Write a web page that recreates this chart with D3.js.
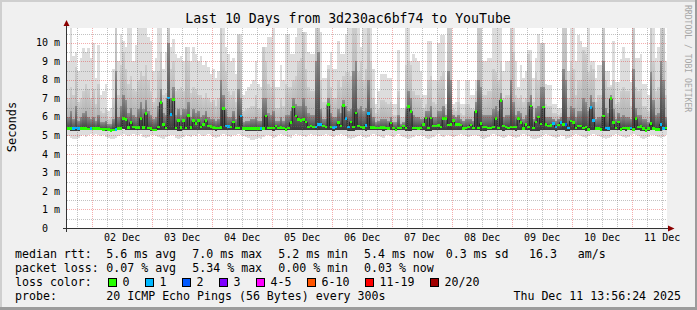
<!DOCTYPE html>
<html><head><meta charset="utf-8">
<script src="https://cdn.jsdelivr.net/npm/d3@7"></script>
<style>
body{margin:0;background:#f0f0f0;overflow:hidden;}
text{font-family:"DejaVu Sans Mono",monospace;fill:#000;white-space:pre;}
</style></head><body>
<svg id="c" width="697" height="310"></svg>
<script>
// ---------------- DATA ----------------
const title = "Last 10 Days from 3d230ac6bf74 to YouTube";
const yAxisTitle = "Seconds";
const yTickValues = [0,1,2,3,4,5,6,7,8,9,10];
const yTickLabels = ["0\u00a0\u00a0","1 m","2 m","3 m","4 m","5 m","6 m","7 m","8 m","9 m","10 m"];
const dayLabels = ["02 Dec","03 Dec","04 Dec","05 Dec","06 Dec","07 Dec","08 Dec","09 Dec","10 Dec","11 Dec"];
const watermark = "RRDTOOL / TOBI OETIKER";

// hourly median RTT (ms), 240 hours starting Dec 1 14:00
const med = [
5.36,5.38,5.38,5.40,5.37,5.36,5.38,5.36,5.35,5.37, 5.36,5.38,5.36,5.35,5.33,5.34,5.32,5.27,5.30,5.33,
5.36,5.36,5.90,5.85,5.42,5.69,5.45,5.42,5.42,5.92, 5.42,6.17,5.40,5.36,5.29,5.30,5.45,6.78,5.60,5.40,
7.02,6.13,6.93,5.40,5.80,5.42,5.80,5.40,6.06,5.42, 5.80,5.65,5.80,5.45,5.60,5.80,5.50,5.47,5.42,5.40,
5.40,5.42,6.46,5.50,5.48,5.45,5.72,5.41,5.40,6.05, 5.38,5.38,5.37,5.38,5.37,5.38,5.37,5.37,5.38,6.05,
5.41,5.40,5.40,5.50,5.40,5.42,5.41,5.32,5.40,5.69, 6.53,6.05,5.87,5.81,5.87,5.72,5.45,5.50,5.45,5.45,
5.60,5.60,5.50,5.45,6.67,5.45,5.42,5.45,5.69,5.50, 6.60,5.90,5.45,5.72,5.45,6.22,5.50,5.45,5.42,5.55,
6.17,5.42,5.43,5.40,5.40,5.42,5.43,5.40,5.38,5.68, 5.41,5.30,5.40,5.40,5.50,5.41,6.55,6.30,5.41,5.41,
5.38,5.41,5.60,5.95,5.41,5.95,5.50,5.50,5.55,5.46, 5.90,5.90,5.56,5.60,5.80,5.60,5.60,5.56,5.38,5.41,
5.45,5.56,5.41,6.30,5.41,5.63,5.45,5.45,5.41,5.41, 5.45,5.90,5.41,6.90,5.50,5.45,5.41,5.45,5.45,5.45,
5.90,5.70,5.38,5.60,5.45,6.58,5.40,5.72,6.00,5.62, 6.53,5.60,5.50,5.55,5.63,5.45,5.56,5.69,5.60,5.60,
5.41,5.77,5.69,5.41,5.50,5.50,5.41,5.45,5.32,6.50, 5.80,5.38,5.38,5.32,6.05,5.41,5.36,6.98,5.69,5.41,
5.72,5.32,5.41,5.41,5.38,5.41,5.32,5.90,5.45,5.48, 5.38,5.25,5.36,5.63,5.38,5.32,5.32,5.60,5.38,5.41
];
// loss colour class per hour (index into lossColors)
const loss = [
0,0,1,1,1,0,0,0,0,1, 0,0,0,0,0,0,0,0,0,1,
0,0,0,0,0,0,0,0,0,0, 0,0,0,0,0,0,0,0,0,0,
1,1,0,0,0,0,0,0,0,0, 0,0,0,0,0,0,0,0,0,0,
0,0,0,1,1,0,0,0,0,1, 0,0,0,0,0,0,0,1,0,0,
0,0,0,0,0,0,0,0,0,0, 0,0,0,0,0,0,0,0,0,1,
1,1,0,0,0,0,1,1,0,0, 0,1,1,0,0,0,0,0,0,1,
1,0,0,0,0,0,0,0,0,0, 0,0,0,0,0,0,0,0,0,0,
0,0,0,0,0,0,0,0,0,0, 0,0,0,0,0,0,0,0,0,0,
0,0,0,0,0,0,0,0,0,0, 0,0,0,0,0,0,0,0,0,0,
0,0,0,0,0,0,0,0,0,0, 0,0,0,0,1,1,0,1,0,2,
1,0,0,0,0,0,0,0,0,1, 1,0,0,0,0,1,1,0,0,0,
0,0,0,0,0,1,0,0,0,0, 0,0,0,0,0,0,0,1,1,0
];
// smoke: highest ping (light band top)
const smokeTop = [
9.0,11,9.3,9.5,8.5,9.2,9.7,9.5,9.7,9.2, 10.0,8.1,9.9,7.2,7.4,7.8,6.3,6.5,8.6,11,
9.0,10.5,10.1,9.75,11,11,9.0,9.9,11,11, 11,11,10.3,10.1,8.5,9.2,11,11,8.6,9.5,
11,9.8,10.2,9.4,9.2,9.3,9.0,9.75,9.75,9.0, 9.75,9.4,9.0,9.3,8.8,9.0,8.7,8.3,8.6,8.1,
8.5,11,11,9.75,9.4,9.0,9.2,8.3,10.5,10.5, 7.2,7.4,7.6,7.8,8.0,9.0,7.8,7.6,9.8,9.8,
10.3,10.3,11,7.6,7.6,8.8,8.0,10.5,10.5,9.4, 9.4,10.3,11,11,10.6,10.6,9.5,9.4,9.4,11,
11,10.6,8.1,8.1,8.8,9.5,8.6,8.6,10.1,9.4, 9.4,10.5,11,11,11,11,11,9.75,11,11,
11,11,8.6,6.7,7.4,8.3,8.3,8.3,8.1,8.1, 6.7,6.7,9.6,6.5,6.5,11,11,9.0,9.4,9.2,
9.0,8.5,7.2,7.2,10.1,10.1,8.0,8.0,10.0,10.4, 10.4,6.7,11,11,6.7,6.8,8.0,6.7,6.7,8.0,
8.0,7.2,7.2,8.0,11,11,9.0,9.0,9.2,9.2, 11,11,11,11,8.5,9.0,9.0,11,11,9.0,
7.6,8.8,8.1,8.5,9.6,9.6,8.1,9.2,10.5,10.0, 10.0,7.8,7.7,7.7,6.7,6.7,6.5,6.5,11,11,
8.5,11,11,9.0,10.4,10.1,9.8,9.8,11,9.0, 9.0,8.1,8.8,8.8,11,8.5,8.5,7.7,10.1,7.9,
7.9,9.1,9.75,9.2,9.2,7.9,11,9.2,9.2,9.4, 7.8,7.8,7.2,11,11,9.2,9.75,11,11,9.0
];
// smoke: middle band top
const smokeMid = [
7.0,7.6,7.2,8.7,6.8,7.0,7.4,7.8,7.5,7.0, 7.5,6.7,7.8,6.3,6.2,6.5,5.9,6.0,7.0,11,
7.2,8.8,9.5,8.6,7.8,8.2,7.5,7.4,8.0,8.5, 8.2,8.8,8.0,7.4,6.8,7.0,8.5,9.5,7.2,7.3,
11,8.6,9.0,7.4,7.5,7.6,7.4,9.75,9.0,7.3, 7.6,7.5,7.2,7.2,7.0,7.3,7.0,6.8,6.9,6.6,
7.0,11,9.0,8.5,7.4,7.2,7.4,6.8,10.4,9.5, 6.3,6.4,6.5,6.6,6.6,7.2,6.5,6.4,9.8,9.0,
7.8,7.6,8.0,6.5,6.5,7.0,6.6,7.8,7.6,7.6, 8.0,8.2,9.0,9.2,10.6,8.6,7.6,7.4,7.4,11,
11,8.0,6.8,6.8,8.6,7.6,7.0,7.0,8.0,7.6, 8.2,8.4,8.4,8.2,11,11,8.4,9.0,8.0,8.6,
11,9.0,7.0,6.2,6.4,6.9,6.9,6.8,6.7,6.8, 6.1,6.1,7.4,6.0,6.0,8.8,9.0,8.8,7.4,7.2,
7.2,7.0,6.5,6.7,8.0,8.2,6.8,6.7,8.0,8.2, 8.4,6.4,11,11,6.4,6.3,6.8,6.2,6.1,6.7,
6.7,6.5,6.4,7.4,11,11,7.2,7.2,7.4,7.4, 8.6,8.4,8.0,9.0,7.0,7.2,7.2,11,9.5,7.2,
7.0,7.2,6.8,7.0,9.4,9.0,6.8,8.4,8.0,10.0, 10.0,6.7,6.6,6.6,6.2,6.2,6.1,6.2,11,11,
7.0,9.0,8.6,7.2,8.0,8.0,9.6,9.4,8.4,8.8, 8.6,6.8,7.2,7.2,11,8.0,7.6,7.6,8.0,6.7,
6.8,7.4,7.6,7.4,7.4,6.6,11,7.6,7.4,7.5, 6.6,6.6,6.3,11,9.0,7.4,7.6,11,11,7.2
];
// smoke: dark core top
const smokeDark = [
6.0,6.3,5.9,6.6,5.8,6.0,6.2,6.3,6.0,5.9, 6.0,5.8,6.1,5.7,5.7,5.8,5.6,5.6,5.9,8.5,
6.0,6.6,7.2,6.9,6.2,6.5,6.1,6.0,6.4,6.8, 6.4,6.9,6.3,6.1,5.9,6.0,6.6,7.5,6.2,6.1,
10.0,7.0,7.6,6.1,6.4,6.1,6.4,6.4,6.8,6.0, 6.4,6.2,6.3,6.0,6.1,6.3,6.0,5.9,5.9,5.8,
5.9,8.0,7.2,6.4,6.0,6.0,6.3,5.9,7.5,7.0, 5.7,5.8,5.8,5.9,5.9,6.0,5.8,5.8,7.0,7.0,
6.2,6.1,6.3,5.8,5.8,6.0,5.8,6.1,6.1,6.3, 7.0,6.7,6.6,6.6,7.0,6.6,6.2,6.1,6.1,9.0,
9.5,6.4,5.9,5.9,7.0,6.2,6.0,6.0,6.4,6.2, 6.9,6.6,6.3,6.4,8.5,9.0,6.4,6.6,6.3,6.5,
8.0,6.5,6.0,5.7,5.8,5.9,5.9,5.9,5.8,6.0, 5.7,5.7,6.1,5.6,5.7,6.4,7.4,7.0,6.1,6.0,
6.0,5.9,5.9,6.3,6.3,6.6,6.0,6.0,6.3,6.3, 6.6,6.1,8.5,8.0,6.1,6.0,6.1,5.9,5.8,5.9,
5.9,5.9,5.8,6.8,8.0,7.6,6.1,6.1,6.1,6.1, 6.4,6.6,6.3,7.3,6.0,6.1,6.1,8.0,6.8,6.1,
6.3,6.2,5.9,6.1,6.8,7.2,5.9,6.5,6.6,7.6, 7.6,6.0,6.0,6.0,5.9,5.8,5.9,6.0,8.6,8.0,
6.0,6.6,6.5,6.0,6.3,6.3,7.0,6.8,6.3,7.2, 6.8,5.9,6.0,6.0,9.0,6.5,6.2,7.2,6.4,5.9,
6.2,6.0,6.1,6.0,6.0,5.9,8.6,6.5,6.1,6.1, 5.9,5.9,5.7,8.4,6.9,6.1,6.2,9.0,8.0,6.0
];
// smoke: lowest ping (light band bottom)
const smokeLo = [
4.95,4.85,4.8,4.8,4.85,4.95,5.0,4.9,5.0,5.05, 5.0,5.05,5.0,4.95,5.0,4.9,4.85,4.8,4.8,4.85,
4.95,5.0,5.05,5.0,4.95,5.0,5.05,5.0,5.0,5.05, 4.9,4.85,4.9,5.0,5.0,4.95,4.9,4.85,4.8,4.9,
4.95,5.0,5.0,4.85,4.8,4.85,4.9,5.0,4.95,4.9, 5.0,4.95,5.05,5.0,4.95,5.0,5.05,5.0,4.9,4.85,
4.9,5.0,5.05,5.0,4.95,4.9,5.0,5.0,5.05,5.0, 4.95,4.9,4.85,4.75,4.75,4.8,4.85,4.8,4.9,5.0,
5.0,4.95,4.85,4.9,5.0,5.05,5.0,4.95,4.9,4.85, 5.0,5.05,5.0,5.0,4.95,4.9,5.0,5.05,5.0,5.0,
4.95,4.95,5.0,5.05,5.0,4.95,4.9,5.0,5.0,5.05, 5.0,4.95,4.85,4.8,4.85,4.9,4.95,5.0,4.9,4.85,
4.9,5.0,5.05,5.0,4.95,4.9,4.85,5.0,5.0,4.95, 4.9,5.0,5.05,4.95,4.9,4.85,4.8,4.85,4.9,5.0,
4.95,5.0,4.95,4.85,4.8,4.85,4.9,5.0,5.05,4.95, 4.9,5.0,5.0,4.95,4.9,4.95,5.0,5.05,5.0,4.95,
4.9,4.95,5.0,5.0,4.95,4.85,4.8,4.85,4.9,5.0, 5.05,5.0,4.95,4.9,4.85,4.9,5.0,4.95,4.9,4.85,
4.9,5.0,5.05,5.0,4.95,4.85,4.8,4.8,4.85,4.9, 5.0,5.05,5.0,4.95,4.9,4.85,4.9,5.0,4.95,4.8,
4.85,4.9,5.0,5.05,5.0,4.95,4.9,4.85,4.95,5.0, 5.05,5.0,4.95,4.9,4.85,4.8,4.85,4.9,5.0,5.05,
5.0,4.95,4.9,4.85,4.9,5.0,5.05,5.0,4.95,4.85, 4.8,4.85,4.9,5.0,5.0,4.95,4.9,4.85,4.9,5.0
];
// smoke: bottom of the inner (darker) bands
const smokeBase = [
5.27,5.25,5.22,5.22,5.25,5.27,5.29,5.27,5.27,5.29, 5.27,5.29,5.27,5.27,5.25,5.25,5.22,5.19,5.22,5.25,
5.27,5.29,5.32,5.29,5.27,5.29,5.29,5.27,5.27,5.29, 5.27,5.29,5.27,5.25,5.22,5.22,5.27,5.29,5.27,5.27,
5.29,5.29,5.29,5.27,5.25,5.25,5.27,5.29,5.29,5.27, 5.29,5.27,5.29,5.29,5.27,5.29,5.29,5.27,5.27,5.25,
5.27,5.29,5.29,5.29,5.27,5.27,5.29,5.29,5.29,5.29, 5.27,5.25,5.25,5.22,5.22,5.22,5.25,5.25,5.27,5.29,
5.29,5.27,5.25,5.27,5.29,5.29,5.29,5.22,5.27,5.27, 5.29,5.29,5.29,5.29,5.29,5.27,5.29,5.29,5.29,5.29,
5.27,5.27,5.29,5.29,5.29,5.27,5.25,5.29,5.29,5.29, 5.29,5.27,5.25,5.25,5.25,5.27,5.27,5.29,5.27,5.25,
5.27,5.29,5.29,5.29,5.27,5.27,5.25,5.29,5.27,5.27, 5.27,5.22,5.29,5.27,5.27,5.25,5.25,5.25,5.27,5.29,
5.27,5.29,5.27,5.25,5.22,5.25,5.27,5.29,5.29,5.27, 5.27,5.29,5.29,5.27,5.27,5.27,5.29,5.29,5.27,5.27,
5.27,5.27,5.29,5.29,5.27,5.25,5.22,5.25,5.27,5.29, 5.29,5.29,5.27,5.27,5.25,5.27,5.29,5.27,5.27,5.25,
5.27,5.29,5.29,5.29,5.27,5.25,5.22,5.22,5.25,5.27, 5.29,5.29,5.29,5.27,5.27,5.25,5.27,5.29,5.27,5.22,
5.25,5.27,5.29,5.29,5.29,5.27,5.27,5.25,5.22,5.29, 5.29,5.29,5.27,5.22,5.25,5.22,5.22,5.27,5.29,5.29,
5.29,5.25,5.27,5.25,5.27,5.29,5.22,5.29,5.27,5.25, 5.22,5.19,5.25,5.27,5.27,5.25,5.25,5.25,5.27,5.29
];

const lossColors = ["#26ff00","#00b8ff","#0059ff","#7e00ff","#ff00ff","#ff5500","#ff0000","#a10000"];
const lossLabels = ["0","1","2","3","4-5","6-10","11-19","20/20"];

const legendRtt  = ["median rtt:","5.6 ms avg","7.0 ms max","5.2 ms min","5.4 ms now","0.3 ms sd","16.3   am/s"];
const legendLoss = ["packet loss:","0.07 % avg","5.34 % max","0.00 % min","0.03 % now"];
const legendLossColorTitle = "loss color:";
const legendProbe = ["probe:","20 ICMP Echo Pings (56 Bytes) every 300s"];
const legendDate = "Thu Dec 11 13:56:24 2025";

// ---------------- DRAW ----------------
const W = 697, H = 310;
const X0 = 67, X1 = 667, Y0 = 228, Y1 = 28;
const svg = d3.select("#c");
const end = new Date(Date.UTC(2025,11,11,13,56,24));
const start = new Date(end.getTime() - 10*864e5);
const x = d3.scaleUtc().domain([start, end]).range([X0, X1]);
const y = d3.scaleLinear().domain([0, 10.8]).range([Y0, Y1]);
const firstBin = Date.UTC(2025,11,1,14,0,0), HOUR = 36e5;
const bins = med.map((m,i)=>({
  t0:new Date(firstBin+i*HOUR), t1:new Date(firstBin+(i+1)*HOUR),
  med:m, loss:loss[i], top:smokeTop[i], mid:smokeMid[i], dark:smokeDark[i], lo:smokeLo[i], base:smokeBase[i]
}));

// background and 3d frame
svg.append("rect").attr("width",W).attr("height",H).attr("fill","#f0f0f0");
svg.append("rect").attr("x",0).attr("y",0).attr("width",W).attr("height",2).attr("fill","#cfcfcf");
svg.append("rect").attr("x",0).attr("y",0).attr("width",2).attr("height",H).attr("fill","#cfcfcf");
svg.append("rect").attr("x",0).attr("y",H-3).attr("width",W).attr("height",3).attr("fill","#9c9c9c");
svg.append("rect").attr("x",W-2).attr("y",0).attr("width",2).attr("height",H).attr("fill","#9c9c9c");

// canvas
svg.append("rect").attr("x",X0).attr("y",Y1).attr("width",X1-X0).attr("height",Y0-Y1).attr("fill","#ffffff");

const defs = svg.append("defs");
defs.append("clipPath").attr("id","clip").append("rect").attr("x",X0).attr("y",Y1).attr("width",X1-X0).attr("height",Y0-Y1);
function grad(id, c0, c1){
  const g = defs.append("linearGradient").attr("id",id).attr("x1",0).attr("y1",1).attr("x2",0).attr("y2",0);
  g.append("stop").attr("offset","0").attr("stop-color",c0);
  g.append("stop").attr("offset","1").attr("stop-color",c1);
}
grad("gMid","#a4a4a4","#cdcdcd");
grad("gDark","#383838","#8e8e8e");

const plot = svg.append("g").attr("clip-path","url(#clip)");
const bx = d => x(d.t0), bw = d => x(d.t1) - x(d.t0);
function band(lowKey, highKey, fill){
  plot.append("g").attr("shape-rendering","crispEdges").selectAll("rect").data(bins).join("rect")
    .attr("x",bx).attr("width",bw)
    .attr("y",d=>y(d[highKey])).attr("height",d=>Math.max(0,y(d[lowKey])-y(d[highKey])))
    .attr("fill",fill);
}
band("lo","top","#dddddd");
band("base","mid","url(#gMid)");
band("base","dark","url(#gDark)");

// median step line
const pts = bins.map(d=>({t:d.t0, v:d.med}));
pts.push({t:bins[bins.length-1].t1, v:bins[bins.length-1].med});
plot.append("path").datum(pts)
  .attr("d", d3.line().x(d=>x(d.t)).y(d=>y(d.v)).curve(d3.curveStepAfter))
  .attr("fill","none").attr("stroke","#202020").attr("stroke-width",1);
// median coloured by loss
plot.append("g").attr("shape-rendering","crispEdges").selectAll("rect").data(bins).join("rect")
  .attr("x",bx).attr("width",bw)
  .attr("y",d=>y(d.med)-1.3).attr("height",2.6)
  .attr("fill",d=>lossColors[d.loss]);

// grid (on top)
const grid = svg.append("g").attr("shape-rendering","crispEdges");
const minorCol = "rgba(110,110,110,0.42)", majorCol = "rgba(220,0,0,0.32)";
const py = v => Math.round(y(v)) + 0.5;
const px = t => Math.round(x(t)) + 0.5;
const yMinor = d3.range(1, 22).map(k=>k*0.5).filter(v=>v%1!==0 && v<=10.8);
const yMajor = yTickValues.filter(v=>v>0);
grid.selectAll(".ymin").data(yMinor).join("line").attr("x1",X0).attr("x2",X1).attr("y1",py).attr("y2",py)
  .attr("stroke",minorCol).attr("stroke-dasharray","1,1");
grid.selectAll(".ymaj").data(yMajor).join("line").attr("x1",X0).attr("x2",X1).attr("y1",py).attr("y2",py)
  .attr("stroke",majorCol).attr("stroke-dasharray","1,1");
const xMinor = d3.utcHour.every(6).range(start, end).filter(t=>t.getUTCHours()!==0);
const xMajor = d3.utcDay.range(start, end);
grid.selectAll(".xmin").data(xMinor).join("line").attr("y1",Y1).attr("y2",Y0).attr("x1",px).attr("x2",px)
  .attr("stroke",minorCol).attr("stroke-dasharray","1,1");
grid.selectAll(".xmaj").data(xMajor).join("line").attr("y1",Y1).attr("y2",Y0).attr("x1",px).attr("x2",px)
  .attr("stroke",majorCol).attr("stroke-dasharray","1,1");

// axes
const axisCol = "#333";
svg.append("line").attr("x1",X0-4).attr("x2",X1+2).attr("y1",Y0+0.5).attr("y2",Y0+0.5).attr("stroke",axisCol);
svg.append("line").attr("x1",X0-0.5).attr("x2",X0-0.5).attr("y1",Y0+4).attr("y2",Y1-3).attr("stroke",axisCol);
svg.append("path").attr("d",`M${X1+1},${Y0-2.5}L${X1+1},${Y0+3.5}L${X1+7.5},${Y0+0.5}Z`).attr("fill","#8b0000");
svg.append("path").attr("d",`M${X0-3.5},${Y1-2}L${X0+2.5},${Y1-2}L${X0-0.5},${Y1-8}Z`).attr("fill","#8b0000");

// y labels
svg.append("g").selectAll("text").data(yTickValues).join("text")
  .attr("x",60).attr("y",v=>y(v)+3.6).attr("text-anchor","end").attr("font-size","10px")
  .text((v,i)=>yTickLabels[i]);
// x labels at noon
const noons = d3.utcDay.range(start, end).map(d=>new Date(d.getTime()+12*HOUR)).filter(d=>d<=end);
svg.append("g").selectAll("text").data(noons).join("text")
  .attr("x",d=>x(d)).attr("y",241).attr("text-anchor","middle").attr("font-size","10px")
  .text((d,i)=>dayLabels[i]);

// titles
svg.append("text").attr("x",348).attr("y",23).attr("text-anchor","middle").attr("font-size","13.2px").text(title);
svg.append("text").attr("transform","translate(15.5,127) rotate(-90)").attr("text-anchor","middle")
  .attr("font-size","12px").text(yAxisTitle);
svg.append("text").attr("transform","translate(685,5) rotate(90)").attr("font-size","8.1px")
  .style("fill","#a6a6a6").text(watermark);

// legend
const LF = "11.6px";
const segX = [15, 106.3, 192.3, 278.3, 364, 445.7, 529];
const lg = svg.append("g").attr("font-size",LF);
legendRtt.forEach((s,i)=>lg.append("text").attr("x",segX[i]).attr("y",258).text(s));
legendLoss.forEach((s,i)=>lg.append("text").attr("x",segX[i]).attr("y",272).text(s));
lg.append("text").attr("x",15).attr("y",286).text(legendLossColorTitle);
let lx = 108.5;
lossLabels.forEach((lab,i)=>{
  lg.append("rect").attr("x",lx).attr("y",278.5).attr("width",8).attr("height",8)
    .attr("fill",lossColors[i]).attr("stroke","#000").attr("stroke-width",1);
  lg.append("text").attr("x",lx+14).attr("y",286).text(lab);
  lx += 30 + lab.length*7;
});
lg.append("text").attr("x",15).attr("y",300).text(legendProbe[0]);
lg.append("text").attr("x",106.3).attr("y",300).text(legendProbe[1]);
lg.append("text").attr("x",681).attr("y",300).attr("text-anchor","end").text(legendDate);

// sanity check
const lens = [med,loss,smokeTop,smokeMid,smokeDark,smokeLo,smokeBase].map(a=>a.length);
if (lens.some(l=>l!==240)) svg.append("text").attr("x",300).attr("y",150).style("fill","red").text("LEN "+lens.join(","));
</script>
</body></html>
